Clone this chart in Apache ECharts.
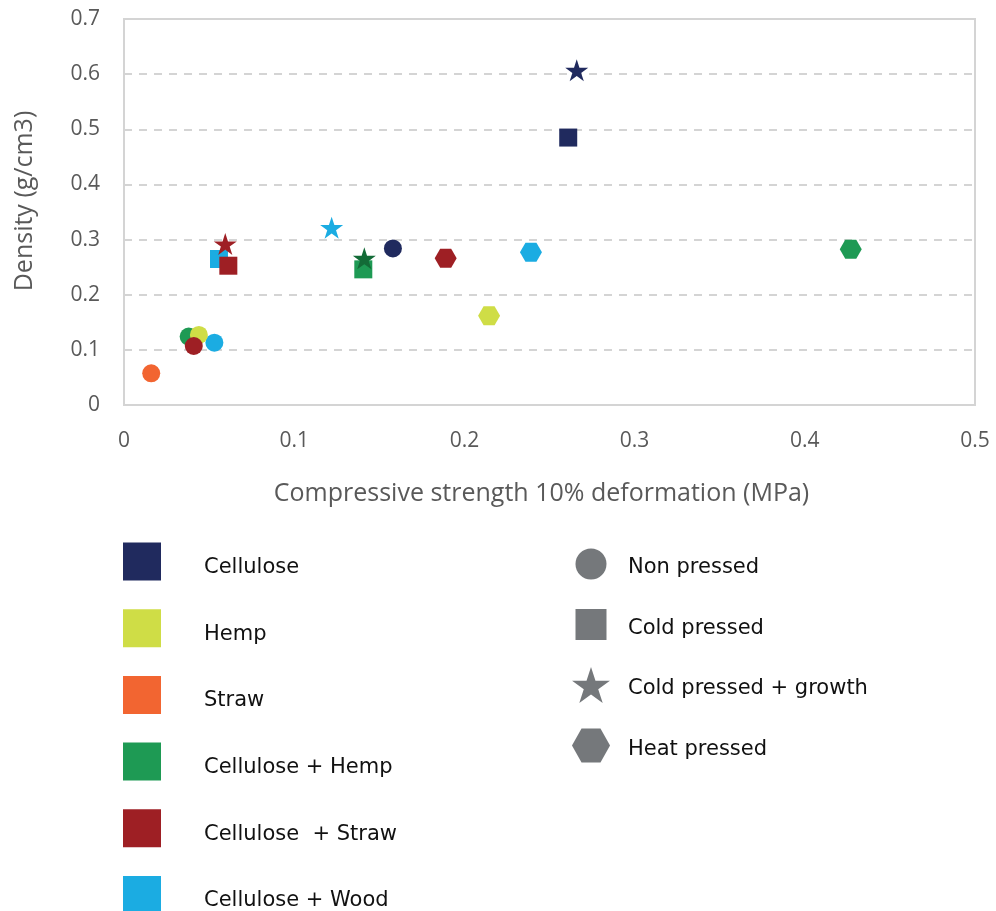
<!DOCTYPE html>
<html>
<head>
<meta charset="utf-8">
<script src="https://cdn.jsdelivr.net/npm/echarts@6/dist/echarts.min.js"></script>
<style>html,body{margin:0;padding:0;background:#fff}#c{width:996px;height:911px}</style>
</head>
<body>
<div id="c"></div>
<script>
// ---- data ----
const materials = ['Cellulose', 'Hemp', 'Straw', 'Cellulose + Hemp', 'Cellulose  + Straw', 'Cellulose + Wood'];
const treatments = ['Non pressed', 'Cold pressed', 'Cold pressed + growth', 'Heat pressed'];
const xTicks = [0, 0.1, 0.2, 0.3, 0.4, 0.5];
const yTicks = [0, 0.1, 0.2, 0.3, 0.4, 0.5, 0.6, 0.7];
// [compressive strength 10% deformation (MPa), density (g/cm3), treatment]
const cellulosePts = [[0.158, 0.284, 'Non pressed'], [0.261, 0.485, 'Cold pressed'], [0.266, 0.607, 'Cold pressed + growth']];
const hempPts = [[0.044, 0.127, 'Non pressed'], [0.2145, 0.162, 'Heat pressed']];
const strawPts = [[0.016, 0.0575, 'Non pressed']];
const celluloseHempPts = [[0.038, 0.124, 'Non pressed'], [0.1406, 0.246, 'Cold pressed'], [0.1412, 0.266, 'Cold pressed + growth'], [0.427, 0.2824, 'Heat pressed']];
const celluloseStrawPts = [[0.041, 0.107, 'Non pressed'], [0.0613, 0.2526, 'Cold pressed'], [0.0595, 0.292, 'Cold pressed + growth'], [0.189, 0.266, 'Heat pressed']];
const celluloseWoodPts = [[0.0531, 0.113, 'Non pressed'], [0.0558, 0.2648, 'Cold pressed'], [0.122, 0.3215, 'Cold pressed + growth'], [0.2391, 0.2769, 'Heat pressed']];

// ---- styles ----
const materialColors = ['#202A5E', '#CFDD46', '#F26531', '#1E9A54', '#9E1F24', '#1BACE2'];
const starOverride = { 'Cellulose + Hemp': '#136B37' };
const STAR = 'path://M50 0 L61.23 34.55 L97.55 34.55 L68.16 55.9 L79.39 90.45 L50 69.1 L20.61 90.45 L31.84 55.9 L2.45 34.55 L38.77 34.55 Z';
const HEX = 'path://M0 50 L25 7 L75 7 L100 50 L75 93 L25 93 Z';
const treatmentSymbol = { 'Non pressed': 'circle', 'Cold pressed': 'rect', 'Cold pressed + growth': STAR, 'Heat pressed': HEX };
const treatmentSize = { 'Non pressed': 18, 'Cold pressed': 18, 'Cold pressed + growth': [23, 22], 'Heat pressed': [22, 19] };
// legend icons drawn in a 38x36 box
const legendIcon = {
  'Non pressed': 'path://M0 0 M38 36 M3.5 18 A15.5 15.5 0 1 1 34.5 18 A15.5 15.5 0 1 1 3.5 18 Z',
  'Cold pressed': 'path://M0 0 M38 36 M3.5 2.5 L34.5 2.5 L34.5 33.5 L3.5 33.5 Z',
  'Cold pressed + growth': STAR,
  'Heat pressed': 'path://M0 0 M38 36 M0 18 L9.5 1 L28.5 1 L38 18 L28.5 35 L9.5 35 Z'
};
const gray = '#75787B';

const pointsByMaterial = {
  'Cellulose': cellulosePts, 'Hemp': hempPts, 'Straw': strawPts,
  'Cellulose + Hemp': celluloseHempPts, 'Cellulose  + Straw': celluloseStrawPts, 'Cellulose + Wood': celluloseWoodPts
};
// drawing order (later on top)
const drawOrder = ['Cellulose', 'Cellulose + Wood', 'Straw', 'Cellulose + Hemp', 'Hemp', 'Cellulose  + Straw'];

const series = drawOrder.map(function (m) {
  const color = materialColors[materials.indexOf(m)];
  return {
    name: m, type: 'scatter', color: color,
    data: pointsByMaterial[m].map(function (p) {
      const item = { value: [p[0], p[1]], symbol: treatmentSymbol[p[2]], symbolSize: treatmentSize[p[2]] };
      if (p[2] === 'Cold pressed + growth' && starOverride[m]) item.itemStyle = { color: starOverride[m], opacity: 1 };
      return item;
    }),
    itemStyle: { color: color, opacity: 1 },
    emphasis: { disabled: true }
  };
});
treatments.forEach(function (t) {
  series.push({ name: t, type: 'scatter', data: [], color: gray, itemStyle: { color: gray, opacity: 1 }, symbol: treatmentSymbol[t] });
});

const axisFont = 'Open Sans';
const legendText = { fontFamily: 'DejaVu Sans', fontSize: 21, color: '#111' };
const chart = echarts.init(document.getElementById('c'));
chart.setOption({
  animation: false,
  backgroundColor: '#fff',
  grid: { left: 124, right: 21, top: 19, bottom: 506, show: true, borderColor: '#D4D4D4', borderWidth: 2, containLabel: false },
  xAxis: {
    type: 'value', min: xTicks[0], max: xTicks[xTicks.length - 1], interval: 0.1,
    name: 'Compressive strength 10% deformation (MPa)', nameLocation: 'middle', nameGap: 76,
    nameTextStyle: { fontFamily: axisFont, fontSize: 25, color: '#595959', padding: [0, 16, 0, 0] },
    axisLine: { show: false }, axisTick: { show: false }, splitLine: { show: false },
    axisLabel: { fontFamily: axisFont, fontSize: 21, color: '#595959', margin: 26 }
  },
  yAxis: {
    type: 'value', min: yTicks[0], max: yTicks[yTicks.length - 1], interval: 0.1,
    name: 'Density (g/cm3)', nameLocation: 'middle', nameGap: 87, nameRotate: 90,
    nameTextStyle: { fontFamily: axisFont, fontSize: 25, color: '#595959', padding: [0, 0, 0, 22] },
    axisLine: { show: false }, axisTick: { show: false },
    splitLine: { show: true, lineStyle: { color: '#D4D4D4', width: 2, type: [8, 7] } },
    axisLabel: { fontFamily: axisFont, fontSize: 21, color: '#595959', margin: 24 }
  },
  legend: [
    {
      orient: 'vertical', left: 118, top: 537.5, height: 420, itemWidth: 38, itemHeight: 38, itemGap: 28.7,
      selectedMode: false, icon: 'rect',
      data: materials,
      formatter: function (n) { return '{t|' + n + '}'; },
      textStyle: { padding: [0, 0, 0, 38], rich: { t: Object.assign({ padding: [12, 0, 0, 0] }, legendText) } }
    },
    {
      orient: 'vertical', left: 567, top: 541, itemWidth: 38, itemHeight: 36, itemGap: 24.5,
      selectedMode: false,
      data: treatments.map(function (t) { return { name: t, icon: legendIcon[t] }; }),
      formatter: function (n) { return '{t|' + n + '}'; },
      textStyle: { padding: [0, 0, 0, 13], rich: { t: Object.assign({ padding: [8, 0, 0, 0] }, legendText) } }
    }
  ],
  series: series
});
</script>
</body>
</html>
